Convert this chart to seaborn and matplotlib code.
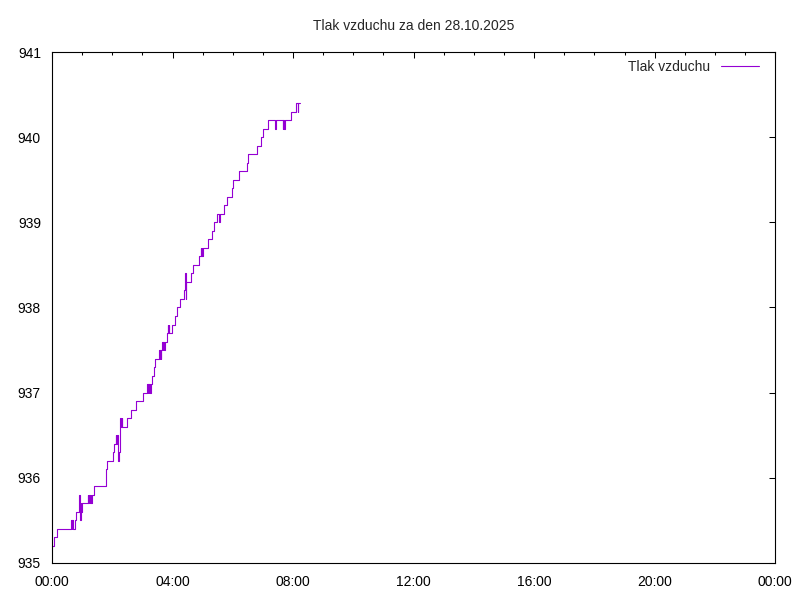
#Importing Modules

import pandas as pd
import matplotlib.pyplot as plt
import matplotlib.ticker as mticker
import seaborn as sns

###

#Data (minute of day when pressure changed, pressure in hPa)

minutes = [0, 4, 9, 38, 39, 40, 42, 45, 47, 54, 55, 56, 57, 58, 60, 71, 72, 74, 75, 77,
           78, 80, 84, 108, 110, 121, 123, 127, 128, 129, 131, 132, 133, 135, 138, 139, 140,
           150, 157, 167, 181, 190, 191, 192, 193, 194, 195, 197, 199, 204, 205, 214, 215,
           216, 217, 218, 220, 221, 222, 223, 225, 228, 230, 231, 232, 233, 238, 245, 248,
           255, 263, 264, 265, 266, 267, 276, 280, 293, 296, 297, 298, 299, 301, 310, 318,
           323, 329, 333, 334, 343, 349, 359, 361, 373, 388, 390, 408, 416, 420, 430, 444,
           446, 459, 460, 462, 463, 475, 486, 489, 490, 494]
pressure = [935.2, 935.3, 935.4, 935.5, 935.4, 935.5, 935.4, 935.5, 935.6, 935.8, 935.7, 935.5,
            935.7, 935.6, 935.7, 935.8, 935.7, 935.8, 935.7, 935.8, 935.7, 935.8, 935.9, 936.1,
            936.2, 936.3, 936.4, 936.5, 936.4, 936.5, 936.4, 936.2, 936.3, 936.7, 936.6, 936.7,
            936.6, 936.7, 936.8, 936.9, 937.0, 937.1, 937.0, 937.1, 937.0, 937.1, 937.0, 937.1,
            937.2, 937.3, 937.4, 937.5, 937.4, 937.5, 937.4, 937.5, 937.6, 937.5, 937.6, 937.5,
            937.6, 937.7, 937.8, 937.7, 937.8, 937.7, 937.8, 937.9, 938.0, 938.1, 938.2, 938.3,
            938.4, 938.1, 938.3, 938.4, 938.5, 938.6, 938.7, 938.6, 938.7, 938.6, 938.7, 938.8,
            938.9, 939.0, 939.1, 939.0, 939.1, 939.2, 939.3, 939.4, 939.5, 939.6, 939.7, 939.8,
            939.9, 940.0, 940.1, 940.2, 940.1, 940.2, 940.1, 940.2, 940.1, 940.2, 940.3, 940.4,
            940.3, 940.4, 940.4]

x_ticks = [0, 4, 8, 12, 16, 20, 24]
x_labels = ["00:00", "04:00", "08:00", "12:00", "16:00", "20:00", "00:00"]
y_ticks = [935, 936, 937, 938, 939, 940, 941]

df = pd.DataFrame({"hour": [m / 60 for m in minutes], "tlak": pressure})

###

#Plotting

sns.set_style("white")
plt.rcParams['font.family'] = ['Liberation Sans', 'DejaVu Sans']

fig = plt.figure(figsize=(8, 6), dpi=100)
ax = fig.add_axes([0.065, 0.0617, 0.904, 0.8516])

sns.lineplot(x="hour", y="tlak", data=df, ax=ax, color="#9400d3", linewidth=0.8,
             drawstyle="steps-post", label="Tlak vzduchu")

ax.set_xlim(0, 24)
ax.set_ylim(935, 941)
ax.set_xticks(x_ticks)
ax.set_xticklabels(x_labels)
ax.xaxis.set_minor_locator(mticker.MultipleLocator(1))
ax.set_yticks(y_ticks)
ax.set_xlabel("")
ax.set_ylabel("")
ax.tick_params(which="both", direction="in", top=True, right=True, labelsize=10,
               color="black", labelcolor="black", width=0.75)
ax.tick_params(which="major", length=4.5)
ax.tick_params(which="minor", length=2.2)
ax.tick_params(axis="x", which="major", pad=9)
ax.tick_params(axis="y", which="major", pad=8)
for s in ax.spines.values():
    s.set_color("black")
    s.set_linewidth(0.8)

ax.set_title("Tlak vzduchu za den 28.10.2025", fontsize=10, pad=16)
ax.legend(loc="upper right", bbox_to_anchor=(0.989, 1.0), frameon=False,
          markerfirst=False, fontsize=10, handlelength=2.7, borderaxespad=0.2)

fig.savefig("out.png", dpi=100)
